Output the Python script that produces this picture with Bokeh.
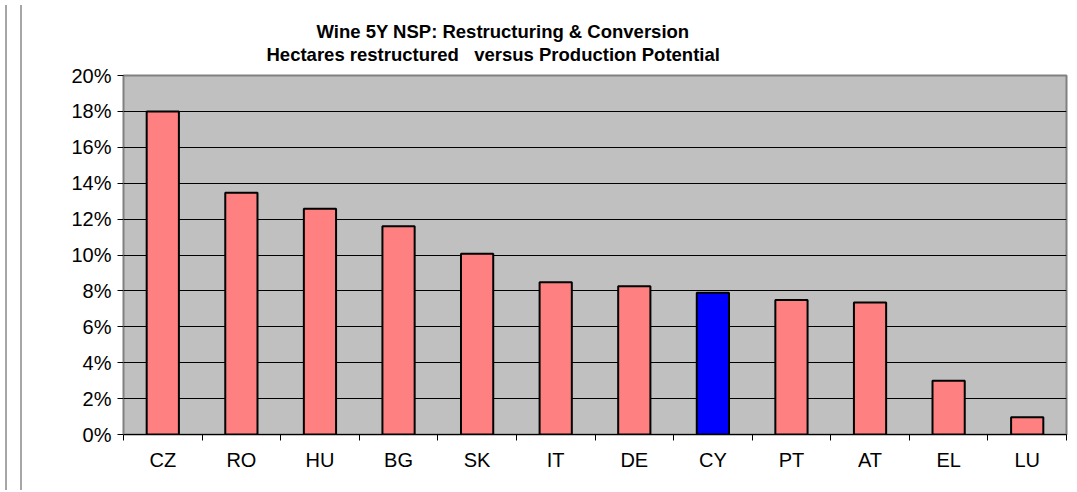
import numpy as np
from bokeh.plotting import figure
from bokeh.models import (ColumnDataSource, FixedTicker, NumeralTickFormatter,
                          Title, Range1d, Div)
from bokeh.layouts import row
from bokeh.embed import file_html
from bokeh.resources import INLINE

# ---- data ----
countries = ["CZ", "RO", "HU", "BG", "SK", "IT", "DE", "CY", "PT", "AT", "EL", "LU"]
share = [0.180, 0.1347, 0.1258, 0.116, 0.1007, 0.0848, 0.0826, 0.0790, 0.0750, 0.0735, 0.030, 0.0096]
highlight = "CY"
y_ticks = [0.00, 0.02, 0.04, 0.06, 0.08, 0.10, 0.12, 0.14, 0.16, 0.18, 0.20]
title_line1 = "Wine 5Y NSP: Restructuring & Conversion"
title_line2 = "Hectares restructured \u00a0 versus Production Potential"

FONT = "Liberation Sans"
n = len(countries)
xs = np.arange(n) + 0.5
colors = ["#0000FF" if c == highlight else "#FF8080" for c in countries]
src = ColumnDataSource(dict(x=xs, top=share, color=colors))

H = 485
p = figure(width=1044, height=H, output_backend="svg", toolbar_location=None,
           x_range=Range1d(0, n), y_range=Range1d(0, 0.20), title=None,
           min_border_left=96, min_border_right=5, min_border_bottom=51,
           min_border_top=75)
p.background_fill_color = "#C0C0C0"
p.border_fill_color = "white"
p.outline_line_color = "#808080"
p.outline_line_width = 2

p.vbar(x="x", top="top", bottom=0, width=0.41, fill_color="color",
       line_color="black", line_width=2, source=src)

# grid
p.xgrid.visible = False
p.ygrid.ticker = FixedTicker(ticks=y_ticks)
p.ygrid.grid_line_color = "black"
p.ygrid.grid_line_width = 1

# y axis
p.yaxis.ticker = FixedTicker(ticks=y_ticks)
p.yaxis.formatter = NumeralTickFormatter(format="0%")
p.yaxis.major_label_text_font = FONT
p.yaxis.major_label_text_font_size = "20px"
p.yaxis.major_label_text_color = "black"
p.yaxis.major_tick_out = 6
p.yaxis.major_tick_in = 0
p.yaxis.minor_tick_line_color = None
p.yaxis.axis_line_color = "#808080"
p.yaxis.major_tick_line_color = "black"
p.yaxis.major_label_standoff = 6

# x axis: labels at centres, ticks at category boundaries
p.xaxis.ticker = FixedTicker(ticks=list(xs), minor_ticks=list(range(n + 1)))
p.xaxis.major_label_overrides = {float(x): c for x, c in zip(xs, countries)}
p.xaxis.major_tick_out = 0
p.xaxis.major_tick_in = 0
p.xaxis.minor_tick_out = 6
p.xaxis.minor_tick_in = 0
p.xaxis.minor_tick_line_color = "black"
p.xaxis.axis_line_color = "black"
p.xaxis.major_label_text_font = FONT
p.xaxis.major_label_text_font_size = "20px"
p.xaxis.major_label_text_color = "black"
p.xaxis.major_label_standoff = 8

# titles (first added is nearest the frame); a small blank spacer first
spacer = Title(text="\u00a0", text_font=FONT, text_font_size="8px", standoff=0)
t2 = Title(text=title_line2, align="left", offset=143, text_font=FONT,
           text_font_size="18.5px", text_font_style="bold", standoff=0,
           text_color="black")
t1 = Title(text=title_line1, align="left", offset=193, text_font=FONT,
           text_font_size="18.5px", text_font_style="bold", standoff=0,
           text_color="black")
p.add_layout(spacer, "above")
p.add_layout(t2, "above")
p.add_layout(t1, "above")

deco = Div(text="", width=17, height=H,
           styles={"border-left": "2px solid #A6A6A6",
                   "border-right": "2px solid #A6A6A6", "box-sizing": "border-box"})

layout = row(deco, p, spacing=0)
open("out.html", "w").write(file_html(layout, INLINE))
